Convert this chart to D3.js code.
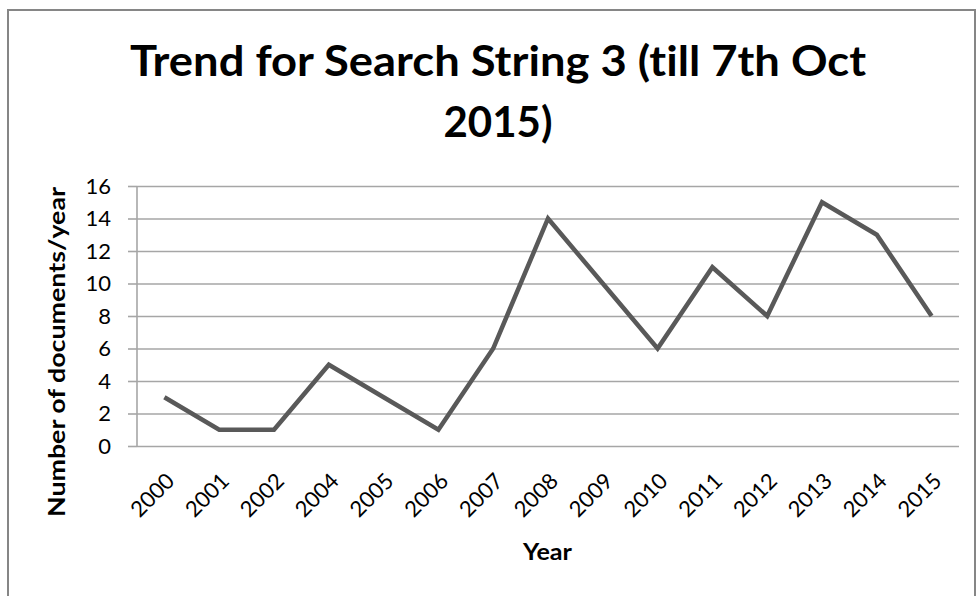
<!DOCTYPE html>
<html>
<head>
<meta charset="utf-8">
<script src="https://cdn.jsdelivr.net/npm/d3@7"></script>
<style>
  html, body { margin: 0; padding: 0; background: #fff; }
  svg { display: block; }
  text { font-family: Lato, "Open Sans", "DejaVu Sans", sans-serif; fill: #000;
         font-variant-ligatures: none; font-feature-settings: "liga" 0; }
</style>
</head>
<body>
<svg id="chart" width="977" height="596"></svg>
<script>
// Documents per year
const years = ["2000", "2001", "2002", "2004", "2005", "2006", "2007", "2008",
               "2009", "2010", "2011", "2012", "2013", "2014", "2015"];
const documents = [3, 1, 1, 5, 3, 1, 6, 14, 10, 6, 11, 8, 15, 13, 8];
const yTicks = [0, 2, 4, 6, 8, 10, 12, 14, 16];
const titleLines = ["Trend for Search String 3 (till 7th Oct", "2015)"];
const xTitle = "Year";
const yTitle = "Number of documents/year";

const svg = d3.select("#chart");
const W = 977, H = 596;
const plot = { left: 137, right: 959, top: 186, bottom: 446 };

// Outer chart frame
svg.append("rect")
  .attr("x", 8).attr("y", 10)
  .attr("width", 967).attr("height", H + 20)
  .attr("fill", "#fff")
  .attr("stroke", "#868686").attr("stroke-width", 2);

const x = d3.scaleBand().domain(years).range([plot.left, plot.right]);
const y = d3.scaleLinear().domain([0, 16]).range([plot.bottom, plot.top]);

// Title
const title = svg.append("g");
title.selectAll("text").data(titleLines).join("text")
  .attr("x", 498)
  .attr("y", (d, i) => 76 + i * 61)
  .attr("text-anchor", "middle")
  .attr("font-size", 42)
  .attr("font-weight", "bold")
  .attr("textLength", (d, i) => i === 0 ? 736 : 109)
  .attr("lengthAdjust", "spacingAndGlyphs")
  .text(d => d);

// Y axis with horizontal gridlines
const yAxis = svg.append("g")
  .attr("transform", `translate(${plot.left},0)`)
  .call(d3.axisLeft(y).tickValues(yTicks).tickSize(9).tickPadding(17));
yAxis.select(".domain").remove();
yAxis.selectAll(".tick line").attr("stroke", "#a6a6a6").attr("stroke-width", 1.6);
yAxis.selectAll(".tick").append("line")
  .attr("x1", 0).attr("x2", plot.right - plot.left)
  .attr("stroke", "#a6a6a6").attr("stroke-width", 1.6);
yAxis.selectAll(".tick text")
  .attr("font-size", 22)
  .attr("font-family", "Lato, 'Open Sans', sans-serif")
  .attr("fill", "#000");

// Vertical axis line
svg.append("line")
  .attr("x1", plot.left).attr("x2", plot.left)
  .attr("y1", plot.top).attr("y2", plot.bottom)
  .attr("stroke", "#a6a6a6").attr("stroke-width", 1.6);

// X axis category labels, rotated
const xAxis = svg.append("g")
  .attr("transform", `translate(0,${plot.bottom})`)
  .call(d3.axisBottom(x).tickSize(0).tickPadding(0));
xAxis.select(".domain").remove();
xAxis.selectAll(".tick text")
  .attr("font-size", 22)
  .attr("font-family", "Lato, 'Open Sans', sans-serif")
  .attr("fill", "#000")
  .attr("text-anchor", "end")
  .attr("dy", "0.35em")
  .attr("transform", "translate(6,31) rotate(-45)");

// Data line
const line = d3.line()
  .x((d, i) => x(years[i]) + x.bandwidth() / 2)
  .y(d => y(d));
svg.append("path")
  .datum(documents)
  .attr("d", line)
  .attr("fill", "none")
  .attr("stroke", "#595959")
  .attr("stroke-width", 4.5)
  .attr("stroke-linejoin", "miter");

// Axis titles
svg.append("text")
  .attr("x", 547.5).attr("y", 560)
  .attr("text-anchor", "middle")
  .attr("font-size", 22)
  .attr("font-weight", "bold")
  .attr("textLength", 49)
  .attr("lengthAdjust", "spacingAndGlyphs")
  .text(xTitle);

svg.append("text")
  .attr("transform", "translate(65,352) rotate(-90)")
  .attr("text-anchor", "middle")
  .attr("font-size", 22)
  .attr("font-weight", "bold")
  .attr("textLength", 330)
  .attr("lengthAdjust", "spacingAndGlyphs")
  .text(yTitle);
</script>
</body>
</html>
